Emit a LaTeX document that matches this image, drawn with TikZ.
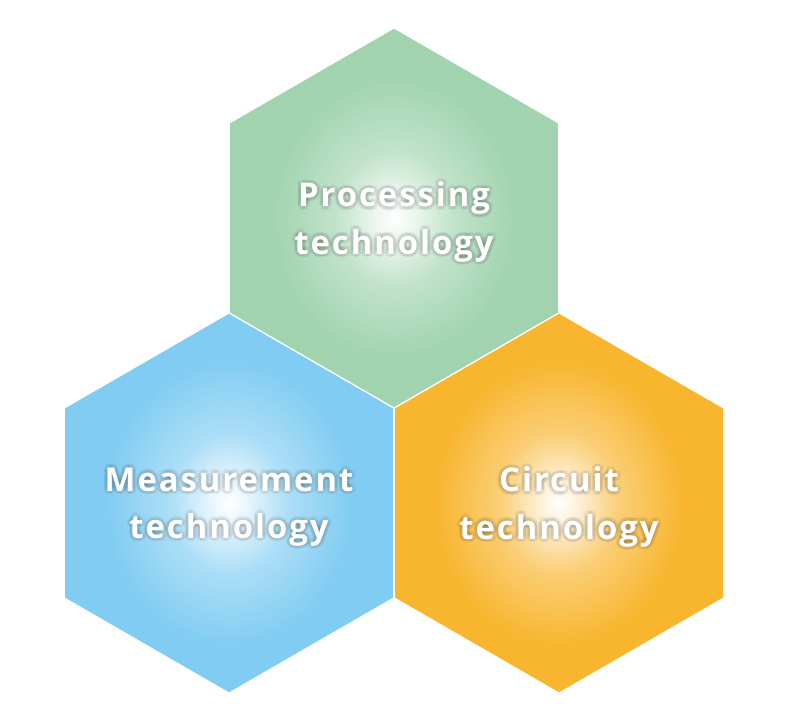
\documentclass[tikz,border=0pt]{standalone}
\usepackage{fontspec}
\setmainfont{Open Sans}[LetterSpace=6]
\usetikzlibrary{shapes.geometric}
\definecolor{proccol}{RGB}{160,211,174}
\definecolor{meascol}{RGB}{128,204,242}
\definecolor{circcol}{RGB}{248,181,46}
\colorlet{hexc}{proccol}
\pgfdeclareradialshading[hexc]{hexglow}{\pgfpoint{0bp}{0bp}}{%
  color(0bp)=(white); color(3bp)=(white!80!hexc);
  color(9bp)=(white!35!hexc); color(19bp)=(hexc); color(50bp)=(hexc)}

\begin{document}
\begin{tikzpicture}[
  x=0.03cm, y=-0.03cm,
  hexcell/.style={regular polygon, regular polygon sides=6,
                  shape border rotate=90, minimum size=11.4cm,
                  inner sep=0pt, draw=white, line width=0.9pt,
                  /utils/exec={\colorlet{hexc}{#1}}, shading=hexglow},
  hextext/.style={text=white, align=center, yshift=-3.4pt,
                  font=\bfseries\fontsize{28}{40.5}\selectfont},
  hexshadow/.style={hextext, text=black!80, opacity=0.07}
]
  \useasboundingbox (0,0) rectangle (790,727);

  \node[hexcell=proccol] (proc) at (394,218) {};
  \node[hexcell=meascol] (meas) at (229,503) {};
  \node[hexcell=circcol] (circ) at (559,503) {};

  % soft dark halo behind the labels
  \foreach \cell/\txt in {proc/{Processing\\technology},
                          meas/{Measurement\\technology},
                          circ/{Circuit\\technology}}{
    \foreach \a in {0,45,...,315}
      \node[hexshadow, shift={(\a:3pt)}] at (\cell) {\txt};
  }

  \node[hextext] (proctext) at (proc) {Processing\\technology};
  \node[hextext] (meastext) at (meas) {Measurement\\technology};
  \node[hextext] (circtext) at (circ) {Circuit\\technology};
\end{tikzpicture}
\end{document}
